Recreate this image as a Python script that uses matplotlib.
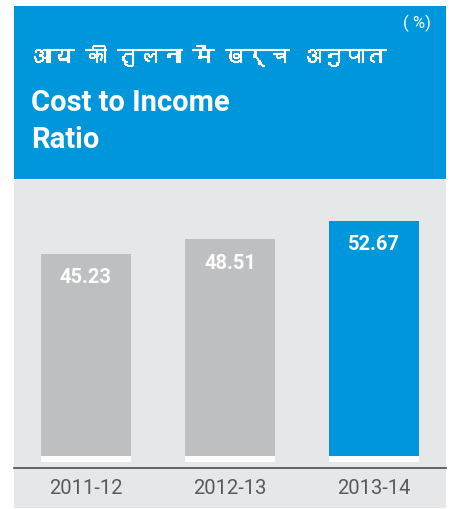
import matplotlib
matplotlib.use("Agg")
import matplotlib.pyplot as plt
import matplotlib.patheffects as pe
from matplotlib import font_manager
from matplotlib.ft2font import FT2Font
from matplotlib.patches import Rectangle

# Data
years = ["2011-12", "2012-13", "2013-14"]
ratios = [45.23, 48.51, 52.67]
title_hi = "आय की तुलना में खर्च अनुपात"
title_en = ["Cost to Income", "Ratio"]
unit_label = "( %)"

BLUE = "#0096DB"
BAR_GREY = "#BEBFC1"
PANEL = "#E6E7E8"
TEXT_GREY = "#58595B"

W, H = 454, 509


# Method: find an installed font file that has a given character
def find_font(ch):
    for f in font_manager.fontManager.ttflist:
        try:
            if ord(ch) in FT2Font(f.fname).get_charmap():
                return f.fname
        except Exception:
            pass
    return None


def fx(px):
    return px / W


def fy(py):
    return 1 - py / H


plt.rcParams["font.family"] = ["Roboto", "DejaVu Sans"]

fig = plt.figure(figsize=(W / 100, H / 100), dpi=100)
fig.patch.set_facecolor("white")

# Header block and grey panel
fig.patches.append(Rectangle((fx(14), fy(179)), fx(432), 173 / H, transform=fig.transFigure,
                             facecolor=BLUE, edgecolor="none", zorder=0))
fig.patches.append(Rectangle((fx(14), fy(508)), fx(432), 328 / H, transform=fig.transFigure,
                             facecolor=PANEL, edgecolor="none", zorder=0))

# Header texts
deva = find_font("आ")
if deva:
    hi_prop = font_manager.FontProperties(fname=deva, size=15.5)
else:
    hi_prop = font_manager.FontProperties(family=["DejaVu Sans"], size=15.5)
fig.text(fx(31), fy(56), title_hi, color="white", fontproperties=hi_prop, va="center", ha="left",
         path_effects=[pe.withStroke(linewidth=0.8, foreground="white")])
fig.text(fx(31), fy(111), title_en[0], color="white", fontsize=21, fontweight="bold",
         va="baseline", ha="left")
fig.text(fx(31), fy(148), title_en[1], color="white", fontsize=21, fontweight="bold",
         va="baseline", ha="left")
fig.text(fx(431), fy(23), unit_label, color="white", fontsize=12, va="center", ha="right")

# Bar axes: baseline at 456px, 4.47 px per unit
scale = 4.47
ax_top, ax_bot = 180, 468
ax = fig.add_axes([fx(14), fy(ax_bot), fx(432), (ax_bot - ax_top) / H], zorder=2)
ax.set_facecolor("none")
ax.set_xlim(-0.5, 2.5)
ax.set_ylim(-(ax_bot - 456) / scale, (456 - ax_top) / scale)

x = list(range(len(years)))
colors = [BAR_GREY, BAR_GREY, BLUE]
ax.bar(x, [1.35] * len(x), bottom=-1.35, width=0.62, color="white", zorder=2)
ax.bar(x, ratios, width=0.62, color=colors, zorder=3)
for xi, v in zip(x, ratios):
    ax.text(xi, v - 5.4, f"{v:.2f}", color="white", fontsize=14.5, fontweight="bold",
            ha="center", va="center", zorder=4)

for s in ["top", "left", "right"]:
    ax.spines[s].set_visible(False)
ax.spines["bottom"].set_color(TEXT_GREY)
ax.spines["bottom"].set_linewidth(1.3)
ax.set_yticks([])
ax.set_xticks(x)
ax.set_xticklabels(years, fontsize=14.5, color=TEXT_GREY)
ax.tick_params(axis="x", length=0, pad=8)

fig.savefig("out.png", dpi=100)
